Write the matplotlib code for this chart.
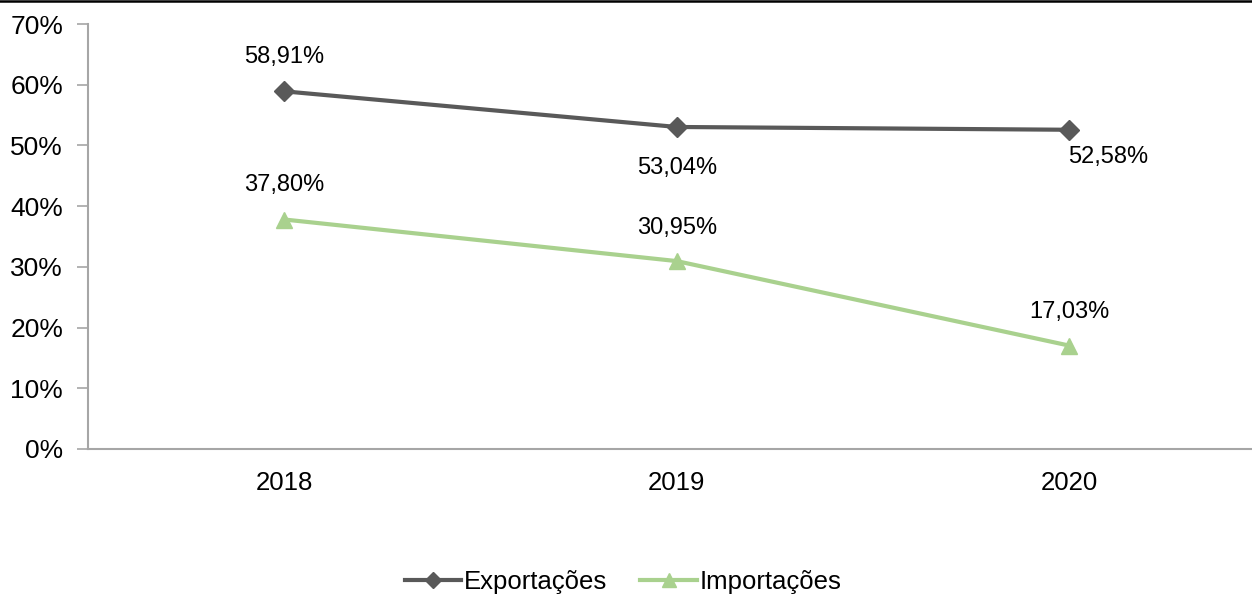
import matplotlib
matplotlib.use("Agg")
import matplotlib.pyplot as plt
from matplotlib.lines import Line2D
from matplotlib.ticker import FuncFormatter

years = ["2018", "2019", "2020"]
exportacoes = [58.91, 53.04, 52.58]
importacoes = [37.80, 30.95, 17.03]
exp_labels = ["58,91%", "53,04%", "52,58%"]
imp_labels = ["37,80%", "30,95%", "17,03%"]

plt.rcParams['font.family'] = ['Liberation Sans', 'DejaVu Sans']

fig = plt.figure(figsize=(12.52, 5.96), dpi=100)
ax = fig.add_axes([88/1252, 147/596, 1177.5/1252, 425/596])

x = list(range(len(years)))
c_exp = '#595959'
c_imp = '#A9D18E'
ax.plot(x, exportacoes, color=c_exp, lw=3, marker='D', ms=10, label='Exportações', zorder=3)
ax.plot(x, importacoes, color=c_imp, lw=3, marker='^', ms=12, label='Importações', zorder=3)

exp_off = [(0, 34), (0, -41), (39, -27)]
imp_off = [(0, 34), (0, 33), (0, 34)]
for i in x:
    ax.annotate(exp_labels[i], (x[i], exportacoes[i]), xytext=exp_off[i], textcoords='offset pixels',
                ha='center', va='center', fontsize=17, color='black')
    ax.annotate(imp_labels[i], (x[i], importacoes[i]), xytext=imp_off[i], textcoords='offset pixels',
                ha='center', va='center', fontsize=17, color='black')

ax.set_xlim(-0.5, 2.5)
ax.set_ylim(0, 70)
ax.set_yticks(range(0, 71, 10))
ax.yaxis.set_major_formatter(FuncFormatter(lambda v, p: f"{int(v)}%"))
ax.set_xticks(x)
ax.set_xticklabels(years)
ax.tick_params(axis='y', length=8, width=1.2, color='#A6A6A6', labelsize=19, pad=10)
ax.tick_params(axis='x', length=0, labelsize=18.5, pad=16)
for s in ['top', 'right']:
    ax.spines[s].set_visible(False)
for s in ['left', 'bottom']:
    ax.spines[s].set_color('#A6A6A6')
    ax.spines[s].set_linewidth(1.5)

leg = fig.legend(loc='center', bbox_to_anchor=(623/1252, 1 - 582/596), ncol=2, frameon=False,
                 fontsize=18.5, handlelength=2.2, handletextpad=0.1, columnspacing=1.3,
                 markerscale=0.8)

fig.add_artist(Line2D([0, 1], [1 - 0.8/596, 1 - 0.8/596], color='black', lw=1.8, transform=fig.transFigure))

fig.savefig('out.png', dpi=100)
